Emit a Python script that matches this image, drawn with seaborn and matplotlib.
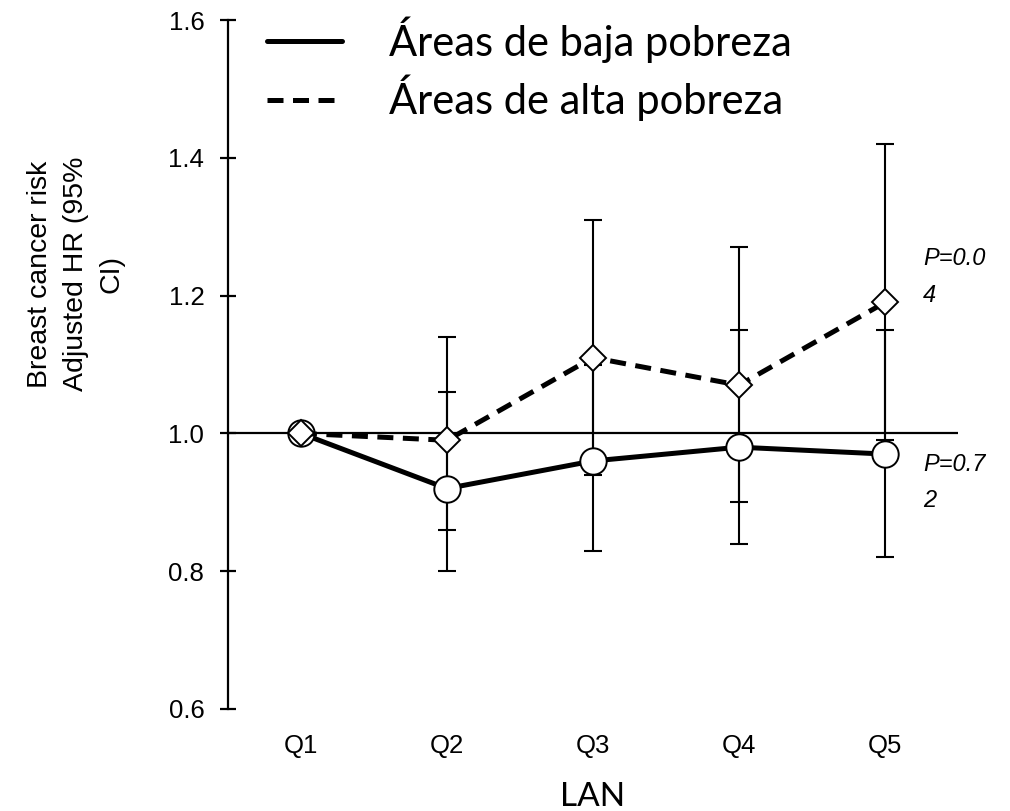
import numpy as np
import pandas as pd
import matplotlib
matplotlib.use("Agg")
import matplotlib.pyplot as plt
import seaborn as sns
from matplotlib.lines import Line2D

# Данные
quintiles = ["Q1", "Q2", "Q3", "Q4", "Q5"]
low_hr = [1.00, 0.92, 0.96, 0.98, 0.97]
low_lo = [1.00, 0.80, 0.83, 0.84, 0.82]
low_hi = [1.00, 1.06, 1.10, 1.15, 1.15]
high_hr = [1.00, 0.99, 1.11, 1.07, 1.19]
high_lo = [1.00, 0.86, 0.94, 0.90, 0.99]
high_hi = [1.00, 1.14, 1.31, 1.27, 1.42]
groups = ["Áreas de baja pobreza", "Áreas de alta pobreza"]
p_labels = ["P=0.0\n4", "P=0.7\n2"]

df = pd.DataFrame({
    "LAN": quintiles * 2,
    "HR": low_hr + high_hr,
    "lo": low_lo + high_lo,
    "hi": low_hi + high_hi,
    "grupo": [groups[0]] * 5 + [groups[1]] * 5,
})

sns.set_style("white")
plt.rcParams['font.family'] = ['Liberation Sans', 'DejaVu Sans']
plt.rcParams['text.color'] = 'black'
plt.rcParams['xtick.color'] = 'black'
plt.rcParams['ytick.color'] = 'black'
plt.rcParams['axes.labelcolor'] = 'black'

fig = plt.figure(figsize=(10.1, 8.11), dpi=100)
ax = fig.add_axes([0.2257, 0.1258, 0.7228, 0.8495])

# Интервалы (под маркерами)
for g in groups:
    sub = df[df["grupo"] == g]
    x = np.arange(len(sub))
    mask = (sub["hi"] - sub["lo"]).values > 0
    ax.errorbar(x[mask], sub["HR"].values[mask],
                yerr=[(sub["HR"] - sub["lo"]).values[mask], (sub["hi"] - sub["HR"]).values[mask]],
                fmt="none", ecolor="black", elinewidth=1.5, capsize=6.5, capthick=1.5, zorder=2)

ax.axhline(1.0, color="black", lw=1.6, zorder=2.5)

sns.lineplot(data=df, x="LAN", y="HR", hue="grupo", style="grupo",
             palette={groups[0]: "black", groups[1]: "black"},
             dashes={groups[0]: "", groups[1]: (3.2, 1.9)},
             markers={groups[0]: "o", groups[1]: "D"},
             lw=3.6, ax=ax, legend=False, zorder=4)
for line in ax.lines[-2:]:
    line.set_markerfacecolor("white")
    line.set_markeredgecolor("black")
    line.set_markeredgewidth(1.4)
ax.lines[-2].set_markersize(19)
ax.lines[-1].set_markersize(13)
ax.lines[-1].set_zorder(5)

ax.set_xlim(-0.5, 4.5)
ax.set_ylim(0.6, 1.6)
ax.set_yticks([0.6, 0.8, 1.0, 1.2, 1.4, 1.6])
ax.set_yticklabels(["0.6", "0.8", "1.0", "1.2", "1.4", "1.6"])
for s in ["top", "right", "bottom"]:
    ax.spines[s].set_visible(False)
ax.spines["left"].set_linewidth(1.6)
ax.spines["left"].set_color("black")
ax.tick_params(axis="y", direction="inout", length=12, width=1.6, labelsize=18.5, pad=11, left=True)
ax.tick_params(axis="x", length=0, labelsize=18.5, pad=18)
ax.set_xlabel("")
ax.set_ylabel("")

# P-значения
ax.text(4.26, 1.227, p_labels[0], fontsize=17, style="italic", va="center", ha="left", linespacing=1.75)
ax.text(4.26, 0.929, p_labels[1], fontsize=17, style="italic", va="center", ha="left", linespacing=1.75)

# Подписи осей
fig.text(0.075, 1 - 274 / 811, "Breast cancer risk\nAdjusted HR (95%\nCI)",
         rotation=90, ha="center", va="center", multialignment="center",
         fontsize=20.5, linespacing=1.5)
fig.text(593 / 1010, 1 - 797 / 811, "LAN", ha="center", va="center",
         fontsize=24, family=["Lato", "DejaVu Sans"])

handles = [Line2D([], [], color="black", lw=3.6, ls="-"),
           Line2D([], [], color="black", lw=3.6, ls=(0, (3.2, 1.9)))]
ax.legend(handles, groups, loc="upper left", bbox_to_anchor=(229 / 1010, 1 - (-21) / 811),
          bbox_transform=fig.transFigure, frameon=False, handlelength=1.8, handletextpad=1.13,
          labelspacing=0.28, prop={"family": ["Lato", "DejaVu Sans"], "size": 30})

plt.savefig("out.png", dpi=100)
